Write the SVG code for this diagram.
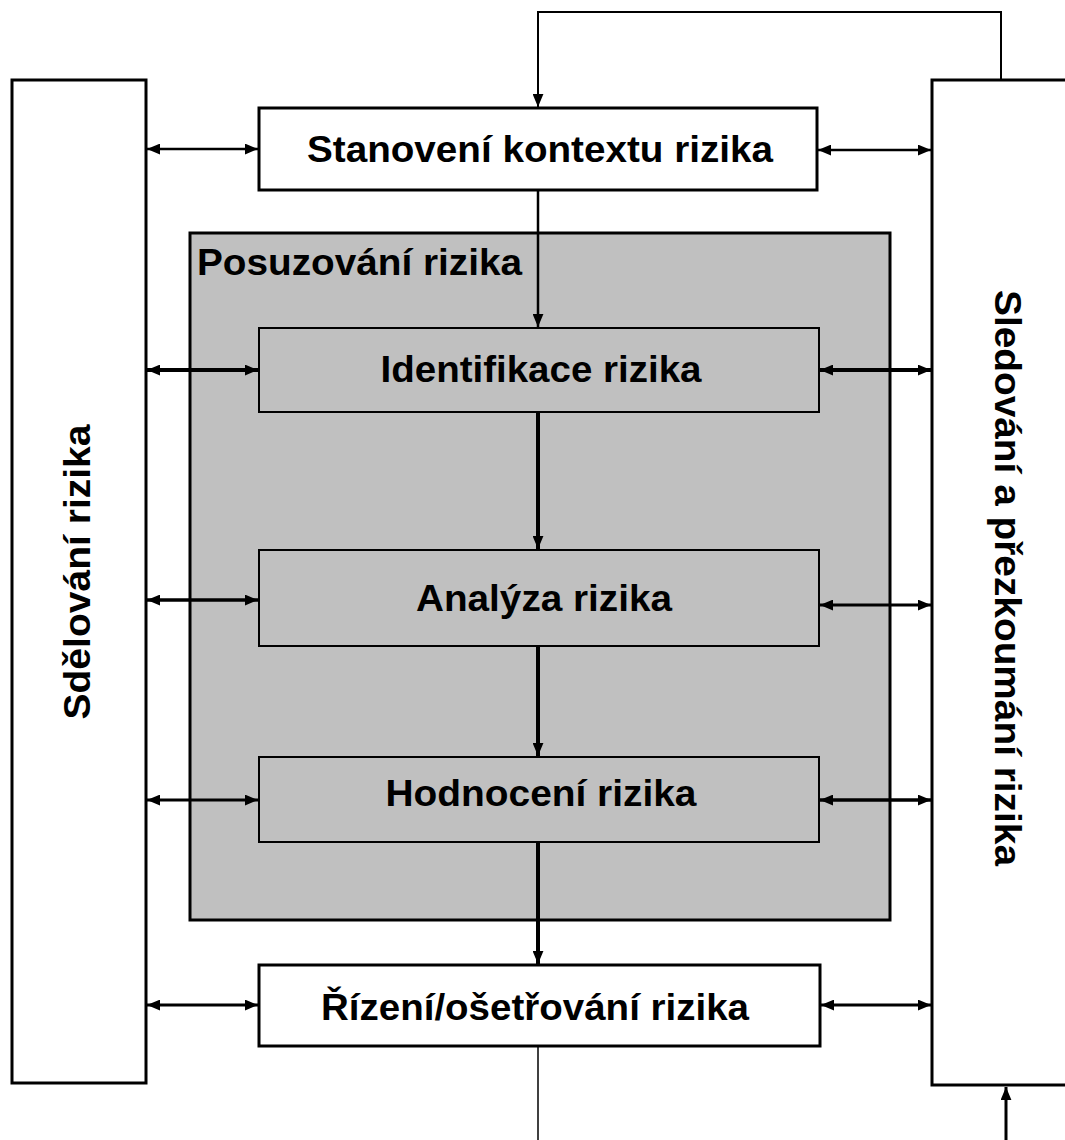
<svg xmlns="http://www.w3.org/2000/svg" width="1065" height="1140" viewBox="0 0 1065 1140">
<style>
.lbl{font-family:"Liberation Sans",Arial,sans-serif;font-weight:bold;font-size:36px;fill:#000}
.box{fill:#fff;stroke:#000;stroke-width:3}
.inner{fill:#c0c0c0;stroke:#000;stroke-width:2}
.con{stroke:#000;fill:none}
</style>
<defs>
<marker id="ah" viewBox="0 0 12 10" refX="12" refY="5" markerWidth="13" markerHeight="11" markerUnits="userSpaceOnUse" orient="auto-start-reverse">
<path d="M0,0 L12,5 L0,10 Z" fill="#000"/>
</marker>
</defs>
<rect width="1065" height="1140" fill="#fff"/>
<g id="sdelovani">
<rect class="box" x="12" y="80" width="134" height="1003"/>
<text class="lbl" transform="translate(90,572) rotate(-90)" text-anchor="middle" textLength="295" lengthAdjust="spacingAndGlyphs">Sdělování rizika</text>
</g>
<g id="sledovani">
<rect class="box" x="932" y="80" width="150" height="1005"/>
<text class="lbl" transform="translate(995,578) rotate(90)" text-anchor="middle" textLength="576" lengthAdjust="spacingAndGlyphs">Sledování a přezkoumání rizika</text>
</g>
<g id="posuzovani">
<rect x="190" y="233" width="700" height="687" fill="#c0c0c0" stroke="#000" stroke-width="3"/>
<text class="lbl" x="197" y="275" textLength="325" lengthAdjust="spacingAndGlyphs">Posuzování rizika</text>
</g>
<g id="stanoveni">
<rect class="box" x="259" y="108" width="558" height="82"/>
<text class="lbl" x="540" y="162" text-anchor="middle" textLength="466" lengthAdjust="spacingAndGlyphs">Stanovení kontextu rizika</text>
</g>
<g id="identifikace">
<rect class="inner" x="259" y="328" width="560" height="84"/>
<text class="lbl" x="541" y="382" text-anchor="middle" textLength="321" lengthAdjust="spacingAndGlyphs">Identifikace rizika</text>
</g>
<g id="analyza">
<rect class="inner" x="259" y="550" width="560" height="96"/>
<text class="lbl" x="544" y="611" text-anchor="middle" textLength="256" lengthAdjust="spacingAndGlyphs">Analýza rizika</text>
</g>
<g id="hodnoceni">
<rect class="inner" x="259" y="757" width="560" height="85"/>
<text class="lbl" x="541" y="806" text-anchor="middle" textLength="311" lengthAdjust="spacingAndGlyphs">Hodnocení rizika</text>
</g>
<g id="rizeni">
<rect class="box" x="259" y="965" width="561" height="81"/>
<text class="lbl" x="535" y="1020" text-anchor="middle" textLength="428" lengthAdjust="spacingAndGlyphs">Řízení/ošetřování rizika</text>
</g>
<g id="connectors">
<path class="con" stroke-width="2" d="M1001,80 V12 H538 V107" marker-end="url(#ah)"/>
<path class="con" stroke-width="2.5" d="M538,190 V327" marker-end="url(#ah)"/>
<path class="con" stroke-width="4" d="M538,412 V549" marker-end="url(#ah)"/>
<path class="con" stroke-width="4" d="M538,646 V756" marker-end="url(#ah)"/>
<path class="con" stroke-width="4" d="M538,842 V964" marker-end="url(#ah)"/>
<path class="con" stroke-width="1.5" d="M538,1046 V1140"/>
<path class="con" stroke-width="3" d="M1006,1140 V1087" marker-end="url(#ah)"/>
<path class="con" stroke-width="2.5" d="M147,149 H258" marker-start="url(#ah)" marker-end="url(#ah)"/>
<path class="con" stroke-width="4" d="M147,370 H258" marker-start="url(#ah)" marker-end="url(#ah)"/>
<path class="con" stroke-width="3.5" d="M147,600 H258" marker-start="url(#ah)" marker-end="url(#ah)"/>
<path class="con" stroke-width="3" d="M147,800 H258" marker-start="url(#ah)" marker-end="url(#ah)"/>
<path class="con" stroke-width="3" d="M147,1005 H258" marker-start="url(#ah)" marker-end="url(#ah)"/>
<path class="con" stroke-width="2.5" d="M818,150 H931" marker-start="url(#ah)" marker-end="url(#ah)"/>
<path class="con" stroke-width="4" d="M820,370 H931" marker-start="url(#ah)" marker-end="url(#ah)"/>
<path class="con" stroke-width="3" d="M820,605 H931" marker-start="url(#ah)" marker-end="url(#ah)"/>
<path class="con" stroke-width="3.5" d="M820,800 H931" marker-start="url(#ah)" marker-end="url(#ah)"/>
<path class="con" stroke-width="3" d="M821,1005 H931" marker-start="url(#ah)" marker-end="url(#ah)"/>
</g>
</svg>
